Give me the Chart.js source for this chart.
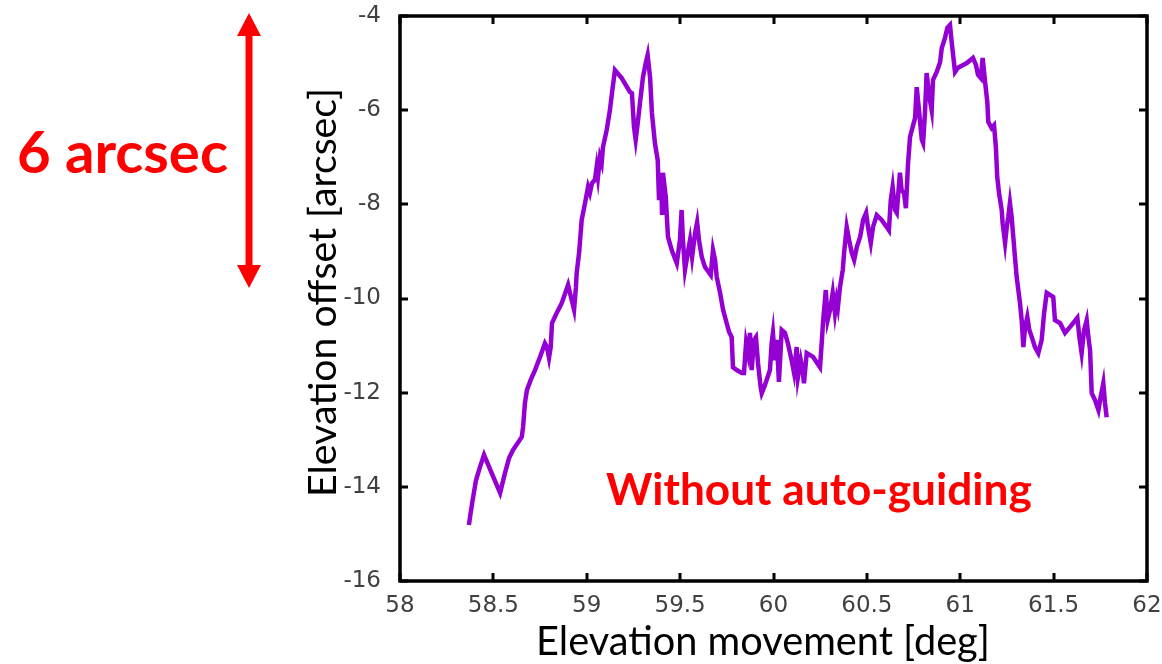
<!DOCTYPE html>
<html>
<head>
<meta charset="utf-8">
<script src="https://cdn.jsdelivr.net/npm/chart.js@4.4.1/dist/chart.umd.min.js"></script>
<style>
  html, body { margin: 0; padding: 0; background: #fff; overflow: hidden; }
  canvas { display: block; }
</style>
</head>
<body>
<canvas id="chart" width="1162" height="664"></canvas>
<script>
// Elevation movement of the telescope [deg]
const elevationDeg = [
  58.369, 58.375, 58.389, 58.407, 58.428, 58.450, 58.491, 58.536, 58.562, 58.584,
  58.605, 58.652, 58.659, 58.669, 58.680, 58.700, 58.723, 58.750, 58.776, 58.787,
  58.798, 58.807, 58.814, 58.839, 58.866, 58.900, 58.910, 58.932, 58.942, 58.946,
  58.959, 58.973, 58.991, 59.007, 59.017, 59.028, 59.044, 59.053, 59.060, 59.071,
  59.080, 59.087, 59.107, 59.124, 59.135, 59.151, 59.187, 59.231, 59.242, 59.253,
  59.262, 59.273, 59.285, 59.301, 59.316, 59.326, 59.339, 59.349, 59.365, 59.380,
  59.387, 59.398, 59.403, 59.408, 59.423, 59.435, 59.455, 59.482, 59.499, 59.508,
  59.515, 59.526, 59.541, 59.553, 59.564, 59.580, 59.591, 59.601, 59.616, 59.633,
  59.664, 59.676, 59.687, 59.696, 59.714, 59.730, 59.749, 59.762, 59.776, 59.783,
  59.803, 59.830, 59.842, 59.853, 59.863, 59.874, 59.883, 59.896, 59.906, 59.917,
  59.931, 59.937, 59.954, 59.981, 59.990, 59.997, 60.008, 60.018, 60.029, 60.044,
  60.061, 60.077, 60.097, 60.110, 60.124, 60.131, 60.146, 60.156, 60.163, 60.178,
  60.212, 60.249, 60.258, 60.265, 60.280, 60.290, 60.303, 60.317, 60.329, 60.338,
  60.345, 60.356, 60.371, 60.378, 60.392, 60.405, 60.419, 60.432, 60.446, 60.464,
  60.480, 60.496, 60.506, 60.521, 60.533, 60.553, 60.579, 60.606, 60.618, 60.628,
  60.638, 60.651, 60.660, 60.677, 60.686, 60.699, 60.709, 60.720, 60.731, 60.745,
  60.758, 60.767, 60.779, 60.794, 60.801, 60.811, 60.820, 60.833, 60.847, 60.854,
  60.874, 60.892, 60.901, 60.918, 60.931, 60.945, 60.954, 60.972, 60.988, 61.035,
  61.068, 61.084, 61.095, 61.110, 61.120, 61.133, 61.145, 61.150, 61.168, 61.181,
  61.191, 61.198, 61.209, 61.222, 61.227, 61.240, 61.249, 61.257, 61.266, 61.275,
  61.284, 61.293, 61.302, 61.311, 61.320, 61.329, 61.338, 61.347, 61.359, 61.370,
  61.383, 61.400, 61.418, 61.436, 61.449, 61.463, 61.498, 61.507, 61.534, 61.561,
  61.597, 61.627, 61.638, 61.650, 61.663, 61.677, 61.686, 61.695, 61.704, 61.722,
  61.740, 61.752, 61.766, 61.775, 61.784
];

// Measured elevation offset without auto-guiding [arcsec]
const offsetArcsec = [
  -14.81, -14.64, -14.28, -13.86, -13.58, -13.32, -13.71, -14.13, -13.71, -13.39,
  -13.22, -12.94, -12.73, -12.22, -11.94, -11.73, -11.52, -11.24, -10.95, -11.03,
  -11.26, -11.03, -10.52, -10.31, -10.10, -9.71, -9.88, -10.24, -9.76, -9.46,
  -9.03, -8.33, -7.97, -7.63, -7.76, -7.55, -7.48, -7.21, -7.42, -7.00,
  -7.12, -6.78, -6.42, -6.00, -5.64, -5.15, -5.32, -5.61, -5.64, -6.36,
  -6.63, -6.27, -5.85, -5.30, -5.00, -4.83, -5.30, -6.06, -6.70, -7.06,
  -7.91, -7.33, -8.18, -7.33, -7.84, -8.69, -8.97, -9.25, -8.76, -8.12,
  -8.76, -9.39, -9.03, -8.76, -9.12, -8.61, -8.38, -8.76, -9.12, -9.33,
  -9.50, -8.97, -9.18, -9.54, -9.88, -10.24, -10.52, -10.71, -10.82, -11.46,
  -11.52, -11.58, -11.58, -10.95, -11.16, -10.73, -11.52, -10.88, -10.82, -11.37,
  -11.88, -12.01, -11.84, -11.52, -10.95, -10.73, -11.31, -10.88, -11.77, -10.67,
  -10.73, -10.95, -11.31, -11.58, -11.03, -11.67, -11.31, -11.52, -11.80, -11.16,
  -11.24, -11.46, -10.95, -10.52, -9.82, -10.46, -10.24, -9.88, -10.31, -10.03,
  -10.18, -9.76, -9.39, -9.03, -8.48, -8.76, -9.03, -9.18, -8.91, -8.69,
  -8.33, -8.18, -8.48, -8.82, -8.48, -8.23, -8.33, -8.48, -8.55, -7.91,
  -7.63, -8.12, -8.18, -7.33, -7.70, -7.76, -8.08, -7.16, -6.57, -6.36,
  -6.17, -5.51, -6.00, -6.63, -6.70, -6.06, -5.21, -5.68, -6.00, -5.36,
  -5.19, -4.98, -4.68, -4.47, -4.25, -4.19, -4.55, -5.19, -5.10, -5.00,
  -4.89, -5.04, -5.25, -5.32, -4.89, -5.40, -5.83, -6.25, -6.38, -6.32,
  -6.80, -7.42, -7.80, -8.12, -8.40, -8.82, -8.48, -8.27, -7.97, -8.27,
  -8.69, -9.12, -9.54, -9.82, -10.10, -10.46, -11.03, -10.61, -10.39, -10.67,
  -10.82, -11.03, -11.16, -10.88, -10.31, -9.88, -9.97, -10.46, -10.52, -10.73,
  -10.56, -10.41, -10.82, -11.16, -10.67, -10.46, -10.82, -11.09, -12.01, -12.16,
  -12.37, -12.09, -11.80, -12.22, -12.52
];

// Axis tick values and their labels
const xTickValues = [58, 58.5, 59, 59.5, 60, 60.5, 61, 61.5, 62];
const xTickLabels = ['58', '58.5', '59', '59.5', '60', '60.5', '61', '61.5', '62'];
const yTickValues = [-16, -14, -12, -10, -8, -6, -4];
const yTickLabels = ['-16', '-14', '-12', '-10', '-8', '-6', '-4'];

// Text drawn on the figure
const xTitle = 'Elevation movement [deg]';
const yTitle = 'Elevation offset [arcsec]';
const noteText = 'Without auto-guiding';
const spanText = '6 arcsec';

const titleFamily = 'Lato, "Open Sans", sans-serif';
const tickFont = { family: '"DejaVu Sans", sans-serif', size: 23 };
const tickColor = '#404040';

// Font size that makes a string take a given width
function fitSize(ctx, text, weight, family, width) {
  ctx.font = `${weight} 100px ${family}`;
  return 100 * width / ctx.measureText(text).width;
}

// Keep the plot box exactly where the layout padding puts it
function noLabelPadding(s) {
  s.paddingTop = 0; s.paddingBottom = 0; s.paddingLeft = 0; s.paddingRight = 0;
}

const framePlugin = {
  id: 'frameAndNotes',
  afterDraw(chart) {
    const ctx = chart.ctx;
    const { left, right, top, bottom } = chart.chartArea;
    const xs = chart.scales.x, ys = chart.scales.y;
    ctx.save();

    // mirrored inward tick marks
    ctx.strokeStyle = '#000';
    ctx.lineWidth = 3;
    ctx.lineCap = 'butt';
    const tl = 8;
    ctx.beginPath();
    xTickValues.forEach(v => {
      const px = Math.round(xs.getPixelForValue(v));
      ctx.moveTo(px, bottom); ctx.lineTo(px, bottom - tl);
      ctx.moveTo(px, top); ctx.lineTo(px, top + tl);
    });
    yTickValues.forEach(v => {
      const py = Math.round(ys.getPixelForValue(v));
      ctx.moveTo(left, py); ctx.lineTo(left + tl, py);
      ctx.moveTo(right, py); ctx.lineTo(right - tl, py);
    });
    ctx.stroke();

    // plot frame
    ctx.lineWidth = 3.5;
    ctx.strokeRect(left, top, right - left, bottom - top);

    // axis titles
    ctx.fillStyle = '#000';
    ctx.textBaseline = 'alphabetic';
    ctx.textAlign = 'center';
    let s = fitSize(ctx, xTitle, 'normal', titleFamily, 454);
    ctx.font = `normal ${s}px ${titleFamily}`;
    ctx.fillText(xTitle, 763, 655);

    s = fitSize(ctx, yTitle, 'normal', titleFamily, 409);
    ctx.font = `normal ${s}px ${titleFamily}`;
    ctx.save();
    ctx.translate(336, 292.5);
    ctx.rotate(-Math.PI / 2);
    ctx.fillText(yTitle, 0, 0);
    ctx.restore();

    // red notes
    ctx.fillStyle = '#ff0000';
    ctx.textAlign = 'left';
    s = fitSize(ctx, noteText, 'bold', titleFamily, 426);
    ctx.font = `bold ${s}px ${titleFamily}`;
    ctx.fillText(noteText, 606, 505);

    s = fitSize(ctx, spanText, 'bold', titleFamily, 211);
    ctx.font = `bold ${s}px ${titleFamily}`;
    ctx.fillText(spanText, 17, 173);

    // double-headed scale arrow
    const ax = 249, aTop = 13, aBot = 288, headW = 12, headH = 23;
    ctx.strokeStyle = '#ff0000';
    ctx.lineWidth = 7;
    ctx.beginPath();
    ctx.moveTo(ax, aTop + headH - 2);
    ctx.lineTo(ax, aBot - headH + 2);
    ctx.stroke();
    ctx.beginPath();
    ctx.moveTo(ax, aTop);
    ctx.lineTo(ax + headW, aTop + headH);
    ctx.lineTo(ax - headW, aTop + headH);
    ctx.closePath();
    ctx.moveTo(ax, aBot);
    ctx.lineTo(ax + headW, aBot - headH);
    ctx.lineTo(ax - headW, aBot - headH);
    ctx.closePath();
    ctx.fill();

    ctx.restore();
  }
};

const points = elevationDeg.map((x, i) => ({ x, y: offsetArcsec[i] }));

new Chart(document.getElementById('chart'), {
  type: 'line',
  data: {
    datasets: [{
      data: points,
      borderColor: '#9400d3',
      borderWidth: 4.5,
      borderJoinStyle: 'miter',
      pointRadius: 0,
      tension: 0,
      fill: false
    }]
  },
  options: {
    responsive: false,
    animation: false,
    devicePixelRatio: 1,
    layout: { padding: { left: 0, top: 16, right: 15, bottom: 0 } },
    plugins: { legend: { display: false }, tooltip: { enabled: false } },
    scales: {
      x: {
        type: 'linear',
        min: 58, max: 62,
        afterBuildTicks: s => { s.ticks = xTickValues.map(v => ({ value: v })); },
        afterFit: s => { s.height = 83; noLabelPadding(s); },
        grid: { display: false, drawTicks: false },
        border: { display: false },
        ticks: {
          padding: 11, color: tickColor, font: tickFont, maxRotation: 0, autoSkip: false,
          callback: (v, i) => xTickLabels[i]
        }
      },
      y: {
        type: 'linear',
        min: -16, max: -4,
        afterBuildTicks: s => { s.ticks = yTickValues.map(v => ({ value: v })); },
        afterFit: s => { s.width = 400; noLabelPadding(s); },
        grid: { display: false, drawTicks: false },
        border: { display: false },
        ticks: {
          padding: 19, color: tickColor, font: tickFont, autoSkip: false,
          callback: (v, i) => yTickLabels[i]
        }
      }
    }
  },
  plugins: [framePlugin]
});
</script>
</body>
</html>
